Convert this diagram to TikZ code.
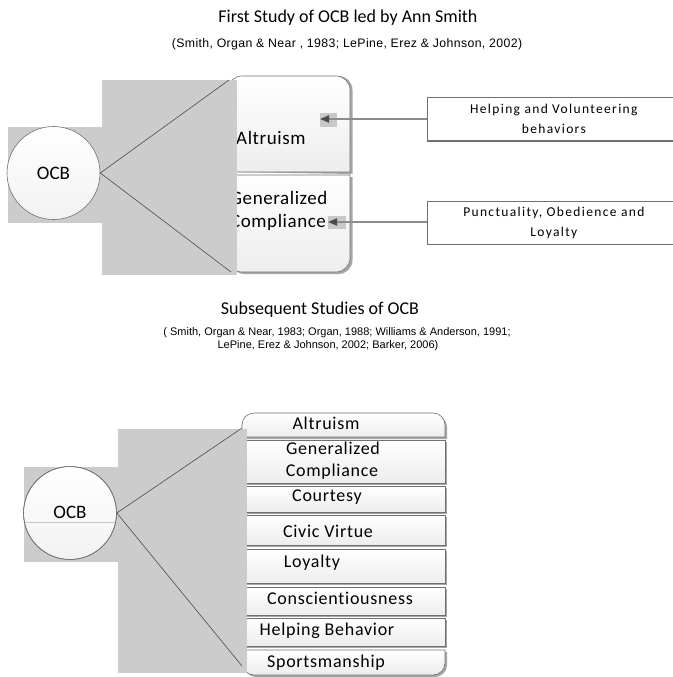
\documentclass[tikz,border=0pt]{standalone}
\usepackage{fontspec}
\setmainfont{Carlito}[Ligatures=NoCommon]
\newfontfamily\citefont{Liberation Sans}
\usetikzlibrary{arrows.meta}
\definecolor{bggray}{HTML}{CCCCCC}
\definecolor{edgegray}{HTML}{707070}
\definecolor{cellbot}{HTML}{EDEDED}
\definecolor{circbot}{HTML}{F2F2F2}
\definecolor{shadowgray}{HTML}{A6A6A6}
\definecolor{arrowgray}{HTML}{8C8C8C}
\definecolor{headgray}{HTML}{4A4A4A}
\definecolor{patchgray}{HTML}{C8C8C8}
\begin{document}
\begin{tikzpicture}[x=1pt,y=-1pt,
  titletext/.style={font=\fontsize{18}{21}\selectfont, inner sep=0pt},
  citetop/.style={font=\citefont\fontsize{12.3}{14}\selectfont\addfontfeatures{LetterSpace=3}, inner sep=0pt},
  citebot/.style={font=\citefont\fontsize{11}{13}\selectfont, inner sep=0pt},
  celltext/.style={font=\fontsize{19}{22}\selectfont\addfontfeatures{LetterSpace=3}, inner sep=0pt, anchor=west},
  subcell/.style={font=\fontsize{18}{22}\selectfont\addfontfeatures{LetterSpace=4}, inner sep=0pt},
  ocbcircle/.style={circle, draw=edgegray, line width=0.6pt, minimum size=93pt, inner sep=0pt, font=\fontsize{19}{22}\selectfont},
  link/.style={draw=black!70, line width=0.6pt},
  cellface/.style={draw=edgegray, line width=0.6pt, top color=white, bottom color=cellbot},
  cellshadow/.style={fill=shadowgray},
  notebox/.style={draw=edgegray, line width=0.7pt, fill=white, minimum width=253pt, minimum height=43pt, anchor=north west, align=center, inner sep=0pt, font=\fontsize{13.5}{20}\selectfont\addfontfeatures{LetterSpace=10}},
  feed/.style={draw=arrowgray, line width=1.8pt, -{Triangle[length=9pt,width=7pt,color=headgray]}},
]
\useasboundingbox (0,0) rectangle (672,677);
\fill[white] (0,0) rectangle (672,677);

% ---------------- top part ----------------
\node[titletext] (t1) at (348,18) {First Study of OCB led by Ann Smith};
\node[citetop] (c1) at (347,44) {(Smith, Organ \& Near , 1983; LePine, Erez \& Johnson, 2002)};

% cells (shadow then face)
\fill[cellshadow] (230.5,172) -- (230.5,90) arc(180:270:14) -- (338.5,76) arc(270:360:14) -- (352.5,174) -- cycle;
\path[cellface] (228,172) -- (228,90) arc(180:270:14) -- (336,76) arc(270:360:14) -- (350,172) -- cycle;
\fill[cellshadow] (230.5,177) -- (352.5,177) -- (352.5,260) arc(0:90:14) -- (244.5,274) arc(90:180:14) -- cycle;
\path[cellface] (228,175) -- (350,175) -- (350,258) arc(0:90:14) -- (242,272) arc(90:180:14) -- cycle;

\node[celltext] (alt1) at (236,138) {Altruism};
\node[celltext] (gen1) at (230,198) {Generalized};
\node[celltext] (com1) at (230,222) {Compliance};

% gray L shape
\fill[bggray] (8,127) rectangle (102,223);
\fill[bggray] (102,80) rectangle (237,275);

% circle and links
\node[ocbcircle, top color=white, bottom color=circbot] (ocb1) at (53.5,173) {OCB};
\coordinate (up1) at (229,80);
\coordinate (dn1) at (231,272);
\draw[link] (ocb1.east) -- (up1);
\draw[link] (ocb1.east) -- (dn1);

% note boxes and arrows
\fill[patchgray] (320,113) rectangle (337,127);
\fill[patchgray] (328,216) rectangle (346,229);
\fill[edgegray] (427,138.5) rectangle (680,141.5);
\fill[edgegray] (427,241.5) rectangle (680,244.5);
\node[notebox] (n1) at (427,97) {Helping and Volunteering\\behaviors};
\node[notebox] (n2) at (427,201) {Punctuality, Obedience and\\Loyalty};
\coordinate (a1) at (320,119);
\coordinate (a2) at (328,222);
\draw[feed] (n1.west |- a1) -- (a1);
\draw[feed] (n2.west |- a2) -- (a2);

% ---------------- bottom part ----------------
\node[titletext] (t2) at (320,310) {Subsequent Studies of OCB};
\node[citebot] (c2a) at (337,333) {( Smith, Organ \& Near, 1983; Organ, 1988; Williams \& Anderson, 1991;};
\node[citebot] (c2b) at (328,346) {LePine, Erez \& Johnson, 2002; Barker, 2006)};

% cells
\fill[cellshadow] (244,439) -- (244,427) arc(180:270:12) -- (435,415) arc(270:360:12) -- (447,439) -- cycle;
\path[cellface] (242,437) -- (242,425) arc(180:270:12) -- (433,413) arc(270:360:12) -- (445,437) -- cycle;
\foreach \ya/\yb in {440/483,486/512,515/545,549/583,587/615,618/646}{
  \fill[cellshadow] (244,\ya+2) rectangle (447,\yb+2);
  \path[cellface] (242,\ya) rectangle (445,\yb);
}
\fill[cellshadow] (244,652) -- (447,652) -- (447,665) arc(0:90:12) -- (256,677) arc(90:180:12) -- cycle;
\path[cellface] (242,650) -- (445,650) -- (445,663) arc(0:90:12) -- (254,675) arc(90:180:12) -- cycle;

\node[subcell] (s1) at (326,423) {Altruism};
\node[subcell] (s2a) at (333,448) {Generalized};
\node[subcell] (s2b) at (332,472) {Compliance};
\node[subcell] (s3) at (327,497) {Courtesy};
\node[subcell] (s4) at (328,531) {Civic Virtue};
\node[subcell] (s5) at (312,563) {Loyalty};
\node[subcell] (s6) at (340,598) {Conscientiousness};
\node[subcell] (s7) at (327,631) {Helping Behavior};
\node[subcell] (s8) at (326,663) {Sportsmanship};

% gray L shape
\fill[bggray] (24,467) rectangle (118,562);
\fill[bggray] (118,429) rectangle (247,673);

% circle
\node[ocbcircle, top color=white, bottom color=circbot] (ocb2) at (70,513) {};
\begin{scope}
  \clip (70,513) circle (46.5);
  \draw[black!22, line width=0.6pt] (20,522) -- (120,522);
\end{scope}
\draw[edgegray, line width=0.6pt] (70,513) circle (46.5);
\node[font=\fontsize{19}{22}\selectfont, inner sep=0pt] (ocbl2) at (70,512) {OCB};
\coordinate (up2) at (242,428);
\coordinate (dn2) at (242,666);
\draw[link] (ocb2.east) -- (up2);
\draw[link] (ocb2.east) -- (dn2);
\end{tikzpicture}
\end{document}
